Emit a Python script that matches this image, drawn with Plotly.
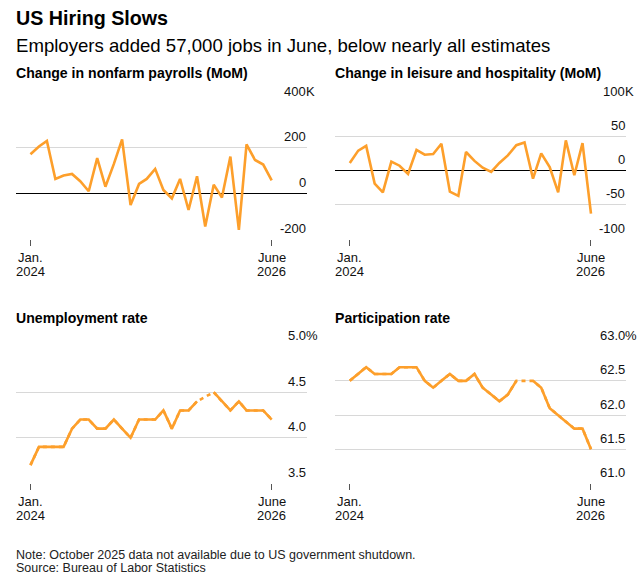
import pandas as pd
import plotly.graph_objects as go

W, H = 643, 586
FONT = "Liberation Sans, Arial, sans-serif"
ORANGE = "#FD9F2B"
GRID = "#D8D8D8"

# ---------------- data ----------------
months = pd.date_range("2024-01-01", "2026-06-01", freq="MS")

payrolls = [171, 205, 229, 63, 78, 85, 53, 9, 154, 29, 129, 236, -51, 41, 63, 107,
            15, -22, 63, -73, 75, -145, 38, -18, 161, -160, 214, 146, 126, 57]
leisure = [11, 29, 36, -19, -32, 13, 7, -5, 30, 23, 24, 39, -31, -37, 27, 14,
           4, -2, 11, 22, 37, 41, -12, 25, 5, -32, 44, -7, 40, -63]
unemployment = [3.7, 3.9, 3.9, 3.9, 3.9, 4.1, 4.2, 4.2, 4.1, 4.1, 4.2, 4.1, 4.0, 4.2, 4.2,
                4.2, 4.3, 4.1, 4.3, 4.3, 4.4, None, 4.5, 4.4, 4.3, 4.4, 4.3, 4.3, 4.3, 4.2]
participation = [62.5, 62.6, 62.7, 62.6, 62.6, 62.6, 62.7, 62.7, 62.7, 62.5, 62.4, 62.5,
                 62.6, 62.5, 62.5, 62.6, 62.4, 62.3, 62.2, 62.3, 62.5, None, 62.5, 62.4,
                 62.1, 62.0, 61.9, 61.8, 61.8, 61.5]

panel_titles = ["Change in nonfarm payrolls (MoM)", "Change in leisure and hospitality (MoM)",
                "Unemployment rate", "Participation rate"]
series = [payrolls, leisure, unemployment, participation]
y_ticks = [[-200, 0, 200, 400], [-100, -50, 0, 50, 100],
           [3.5, 4.0, 4.5, 5.0], [61.0, 61.5, 62.0, 62.5, 63.0]]
y_ticktext = [["-200", "0", "200", "400"], ["-100", "-50", "0", "50", "100"],
              ["3.5", "4.0", "4.5", "5.0"], ["61.0", "61.5", "62.0", "62.5", "63.0"]]
y_suffix = ["K", "K", "%", "%"]
x_tickvals = ["2024-01-01", "2026-06-01"]
x_ticktext = [["Jan.", "2024"], ["June", "2026"]]

title = "US Hiring Slows"
subtitle = "Employers added 57,000 jobs in June, below nearly all estimates"
note = "Note: October 2025 data not available due to US government shutdown."
source = "Source: Bureau of Labor Statistics"

# ---------------- layout geometry (pixels) ----------------
x_doms = [(15.7, 306.7), (335.0, 626.0)]
y_doms = [(102.0, 239.0), (346.7, 483.3)]
x_range = ["2023-11-08", "2026-10-07"]


def py(p):
    return 1 - p / H


fig = go.Figure()
annotations = []


def text_ann(txt, x_px, baseline_px, size, bold=False, color="#000000", anchor="left",
             xref="paper", x_val=None):
    annotations.append(dict(
        text=f"<b>{txt}</b>" if bold else txt, xref=xref, yref="paper",
        x=(x_px / W) if x_val is None else x_val, y=py(baseline_px - 0.35 * size),
        xanchor=anchor, yanchor="middle",
        showarrow=False, borderpad=0, borderwidth=0,
        font=dict(family=FONT, size=size, color=color)))


for k in range(4):
    col, row = k % 2, k // 2
    n = k + 1
    xa = "x" if n == 1 else f"x{n}"
    ya = "y" if n == 1 else f"y{n}"
    xd, yd = x_doms[col], y_doms[row]
    vals = series[k]
    if None in vals:
        fig.add_trace(go.Scatter(x=months, y=vals, mode="lines", connectgaps=True,
                                 line=dict(color=ORANGE, width=2.6, dash="4px,4px"),
                                 xaxis=xa, yaxis=ya, hoverinfo="skip", showlegend=False))
    fig.add_trace(go.Scatter(x=months, y=vals, mode="lines", connectgaps=False,
                             line=dict(color=ORANGE, width=2.6),
                             xaxis=xa, yaxis=ya, showlegend=False))
    xkey = "xaxis" if n == 1 else f"xaxis{n}"
    ykey = "yaxis" if n == 1 else f"yaxis{n}"
    fig.layout[xkey] = dict(
        domain=[xd[0] / W, xd[1] / W], range=x_range, anchor=ya,
        tickmode="array", tickvals=x_tickvals, showticklabels=False,
        ticks="outside", ticklen=6, tickwidth=1, tickcolor="#555555",
        showgrid=False, zeroline=False, showline=False)
    fig.layout[ykey] = dict(
        domain=[py(yd[1]), py(yd[0])], range=[y_ticks[k][0], y_ticks[k][-1]], anchor=xa,
        tickmode="array", tickvals=y_ticks[k], showticklabels=False,
        showgrid=True, gridcolor=GRID, gridwidth=1.3,
        zeroline=(row == 0), zerolinecolor="#000000", zerolinewidth=1.3,
        showline=False)
    # y tick labels above gridlines, numbers aligned with hanging suffix
    for j, (v, t) in enumerate(zip(y_ticks[k], y_ticktext[k])):
        annotations.append(dict(
            text=t, xref=f"{xa} domain", yref=ya, x=1, y=v, xanchor="right",
            yanchor="bottom", xshift=-1, yshift=3.5, showarrow=False,
            borderpad=0, borderwidth=0, font=dict(family=FONT, size=13, color="#111111")))
        if j == len(y_ticks[k]) - 1:
            annotations.append(dict(
                text=y_suffix[k], xref=f"{xa} domain", yref=ya, x=1, y=v, xanchor="left",
                yanchor="bottom", xshift=-1, yshift=3.5, showarrow=False,
                borderpad=0, borderwidth=0, font=dict(family=FONT, size=13, color="#111111")))
    # x tick labels (two lines, tight spacing)
    for tv, lines in zip(x_tickvals, x_ticktext):
        for li, line in enumerate(lines):
            text_ann(line, 0, yd[1] + 23 + 14 * li, 13, color="#111111", anchor="center",
                     xref=xa, x_val=tv)
    # panel title
    text_ann(panel_titles[k], xd[0], [78.3, 322.7][row], 14.1, bold=True)

text_ann(title, 16, 25, 19.7, bold=True)
text_ann(subtitle, 16, 51.7, 18.6)
text_ann(note, 16, 559.3, 12.5, color="#222222")
text_ann(source, 16, 572.3, 12.5, color="#222222")

fig.update_layout(
    width=W, height=H, margin=dict(l=0, r=0, t=0, b=0),
    paper_bgcolor="white", plot_bgcolor="white",
    font=dict(family=FONT), annotations=annotations, showlegend=False)

fig.write_html("out.html", config={"displayModeBar": False},
               post_script="document.body.style.margin='0';")
